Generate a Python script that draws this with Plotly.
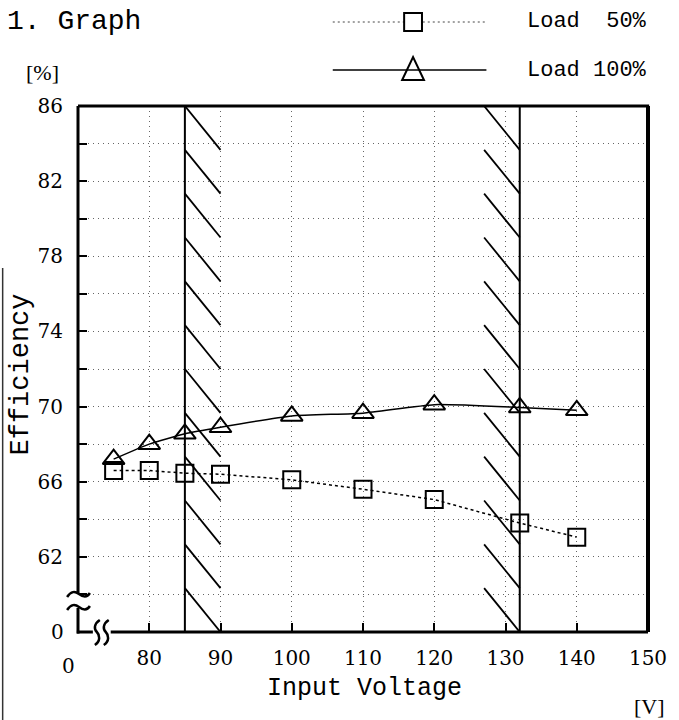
import plotly.graph_objects as go

# ---------------- data ----------------
voltage = [75, 80, 85, 90, 100, 110, 120, 132, 140]
load50 = [66.6, 66.6, 66.45, 66.4, 66.1, 65.6, 65.05, 63.8, 63.05]
load100 = [67.2, 68.0, 68.55, 68.9, 69.5, 69.65, 70.1, 69.95, 69.8]

x_ticks = [80, 90, 100, 110, 120, 130, 140, 150]
y_ticks = [62, 66, 70, 74, 78, 82, 86]
range_low, range_high = 85, 132      # rated input-voltage range (hatched)
hatch_width = 5
hatch_count = 12

X0, X1 = 70, 150
Y0, Y1 = 58, 86

W, H = 679, 720
L, R, T, B = 78, 26, 106, 88
PW, PH = W - L - R, H - T - B


def px(x):
    return (x - L) / PW


def py(y):
    return (H - B - y) / PH


def path(pts_cmds):
    out = []
    for c in pts_cmds:
        if isinstance(c, str):
            out.append(c)
        else:
            out.append(f"{px(c[0]):.5f},{py(c[1]):.5f}")
    return " ".join(out)


fig = go.Figure()

fig.add_trace(go.Scatter(
    x=voltage, y=load50, mode="lines+markers", name="Load 50%",
    line=dict(color="black", width=1.5, dash="dot"),
    marker=dict(symbol="square-open", size=17, color="black", line=dict(width=2)),
    showlegend=False))
fig.add_trace(go.Scatter(
    x=voltage, y=load100, mode="lines+markers", name="Load 100%",
    line=dict(color="black", width=1.5, shape="spline", smoothing=0.5),
    marker=dict(symbol="triangle-up-open", size=19, color="black", line=dict(width=2)),
    showlegend=False))

shapes = []
# hatched range lines
for xv, sgn in [(range_low, 1), (range_high, -1)]:
    shapes.append(dict(type="line", xref="x", yref="y", x0=xv, x1=xv, y0=Y0, y1=Y1,
                       line=dict(color="black", width=2)))
    step = (Y1 - Y0) / hatch_count
    for i in range(hatch_count):
        ya = Y1 - i * step
        yb = Y1 - (i + 1) * step
        if sgn == 1:
            xa, xb = xv, xv + hatch_width
        else:
            xa, xb = xv - hatch_width, xv
        shapes.append(dict(type="line", xref="x", yref="y", x0=xa, x1=xb, y0=ya, y1=yb,
                           line=dict(color="black", width=1.8)))

frame = dict(color="black", width=3)
# top and right border
shapes.append(dict(type="line", xref="paper", yref="paper", x0=px(L), x1=px(W - R) + 0.002,
                   y0=py(T), y1=py(T), line=frame))
shapes.append(dict(type="line", xref="paper", yref="paper", x0=px(W - R), x1=px(W - R),
                   y0=py(T), y1=py(H - B), line=dict(color="black", width=4)))
# left axis with break
shapes.append(dict(type="line", xref="paper", yref="paper", x0=px(L), x1=px(L),
                   y0=py(T), y1=py(594), line=frame))
shapes.append(dict(type="line", xref="paper", yref="paper", x0=px(L), x1=px(L),
                   y0=py(608), y1=py(H - B) - 0.003, line=frame))
# bottom axis with break
shapes.append(dict(type="line", xref="paper", yref="paper", x0=px(L) - 0.002, x1=px(93),
                   y0=py(H - B), y1=py(H - B), line=frame))
shapes.append(dict(type="line", xref="paper", yref="paper", x0=px(111), x1=px(W - R),
                   y0=py(H - B), y1=py(H - B), line=frame))
sq = dict(color="black", width=2.5)
# y-axis break tildes
for yy in (594, 607):
    shapes.append(dict(type="path", xref="paper", yref="paper", line=sq,
                       path=path(["M", (67, yy + 3), "C", (71, yy - 3), (75, yy - 3), (79, yy),
                                  "S", (87, yy + 4), (90, yy - 1)])))
# x-axis break squiggles
for xx in (97, 106):
    shapes.append(dict(type="path", xref="paper", yref="paper", line=sq,
                       path=path(["M", (xx + 3, 620), "C", (xx - 3, 624), (xx - 3, 629), (xx, 632),
                                  "S", (xx + 4, 641), (xx - 2, 645)])))
# legend samples
shapes.append(dict(type="line", xref="paper", yref="paper", x0=px(335), x1=px(490),
                   y0=py(22), y1=py(22), line=dict(color="#444", width=1, dash="2px,3px")))
shapes.append(dict(type="rect", xref="paper", yref="paper", x0=px(407), x1=px(425),
                   y0=py(13), y1=py(31), line=dict(color="black", width=2), fillcolor="white"))
shapes.append(dict(type="line", xref="paper", yref="paper", x0=px(335), x1=px(490),
                   y0=py(70), y1=py(70), line=dict(color="black", width=1.5)))
shapes.append(dict(type="path", xref="paper", yref="paper", line=dict(color="black", width=2),
                   path=path(["M", (405, 80), "L", (416, 57), "L", (427, 80), "Z"])))
# page edge line
shapes.append(dict(type="line", xref="paper", yref="paper", x0=px(2), x1=px(2),
                   y0=py(268), y1=py(720), line=dict(color="#333", width=1.5)))

word = dict(family="Liberation Mono", size=25, color="black")
legend_font = dict(family="Liberation Mono", size=22, color="black")
num = dict(family="DejaVu Serif", size=20, color="black")

ann = []


def add_text(text, x, y, font, xanchor="center", angle=0):
    ann.append(dict(text=text, xref="paper", yref="paper", x=px(x), y=py(y), showarrow=False,
                    font=font, xanchor=xanchor, yanchor="middle", textangle=angle))


add_text("1. Graph", 4, 22, dict(family="Liberation Mono", size=28, color="black"), xanchor="left")
add_text("[%]", 42, 72, dict(family="Liberation Serif", size=22, color="black"))
add_text("Load  50%", 654, 22, legend_font, xanchor="right")
add_text("Load 100%", 654, 70, legend_font, xanchor="right")
add_text("Efficiency", 20, 375, dict(family="Liberation Mono", size=27, color="black"), angle=-90)
add_text("Input Voltage", 367, 688, word)
add_text("[V]", 655, 706, dict(family="Liberation Serif", size=22, color="black"))
add_text("0", 57, 632, num)
add_text("0", 68, 666, num)

grid = dict(showgrid=True, gridcolor="#666", griddash="1px,4px", gridwidth=1)

fig.update_layout(
    width=W, height=H, margin=dict(l=L, r=R, t=T, b=B),
    paper_bgcolor="white", plot_bgcolor="white",
    shapes=shapes, annotations=ann,
    xaxis=dict(range=[X0, X1], tickvals=x_ticks, ticktext=[str(v) for v in x_ticks],
               ticks="inside", ticklen=9, tickwidth=2, tickcolor="black",
               showline=False, zeroline=False, tickfont=num, ticklabelstandoff=12, **grid),
    yaxis=dict(range=[Y0, Y1], tickvals=y_ticks, ticktext=[str(v) for v in y_ticks],
               ticks="inside", ticklen=9, tickwidth=2, tickcolor="black",
               minor=dict(dtick=2, tick0=58, ticks="inside", ticklen=9, tickwidth=2,
                          tickcolor="black", **grid),
               showline=False, zeroline=False, tickfont=num, ticklabelstandoff=14, **grid),
)

fig.write_html("out.html", config={"displayModeBar": False},
               post_script="document.body.style.margin='0px';")
